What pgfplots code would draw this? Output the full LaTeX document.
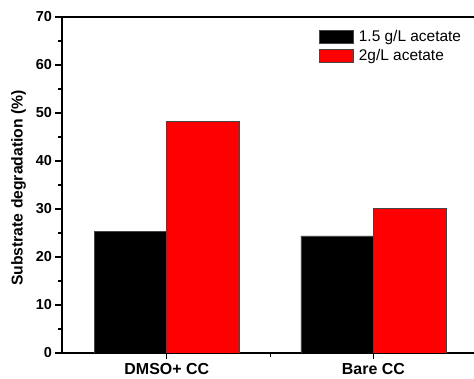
\documentclass[border=0pt]{standalone}
\usepackage{pgfplots}
\pgfplotsset{compat=1.18}
\usepackage{fontspec}
\setmainfont{Liberation Sans}
\definecolor{barred}{RGB}{255,0,0}
\definecolor{edge}{RGB}{70,70,70}
\begin{document}
\begin{tikzpicture}
\begin{axis}[
  scale only axis, width=412bp, height=336bp,
  xmin=0.493, xmax=2.487, ymin=0, ymax=70,
  ybar=0pt, bar width=72.5bp,
  axis x line*=box, axis y line*=left,
  axis line style={line width=1.3bp},
  xtick={1,2}, xticklabels={DMSO+ CC, Bare CC},
  minor xtick={1.5},
  ytick={0,10,...,70}, minor ytick={5,15,...,65},
  xtick pos=bottom, ytick pos=left,
  tick align=outside,
  major tick length=6.5bp, minor tick length=4bp,
  tick style={line width=1.1bp, black},
  /pgf/number format/assume math mode=true,
  yticklabel style={font=\fontsize{14.5}{17}\selectfont\bfseries},
  xticklabel style={font=\fontsize{16}{19}\selectfont\bfseries},
  ylabel={Substrate degradation (\%)},
  every axis y label/.style={at={(axis description cs:0,0.5)}, xshift=-43.5bp, yshift=-3bp, rotate=90, anchor=center, font=\fontsize{15.8}{19}\selectfont\bfseries},
  legend style={draw=none, fill=none, at={(0.624,0.965)}, anchor=north west, inner sep=0pt,
    font=\fontsize{15.5}{18}\selectfont, row sep=3bp,
    nodes={inner sep=1.5bp},
    /tikz/every odd column/.append style={column sep=3.5bp}},
  legend cell align=left,
  legend image code/.code={\draw[#1] (0bp,-6.5bp) rectangle (34bp,6.5bp);},
]
\addplot[fill=black, draw=edge, line width=0.6bp] coordinates {(1,25.4) (2,24.4)};
\addlegendentry{1.5 g/L acetate}
\addplot[fill=barred, draw=edge, line width=0.6bp] coordinates {(1,48.2) (2,30.2)};
\addlegendentry{2g/L acetate}
\end{axis}
\pgfresetboundingbox
\useasboundingbox (-62bp,-26bp) rectangle (412bp,353bp);
\end{tikzpicture}
\end{document}
